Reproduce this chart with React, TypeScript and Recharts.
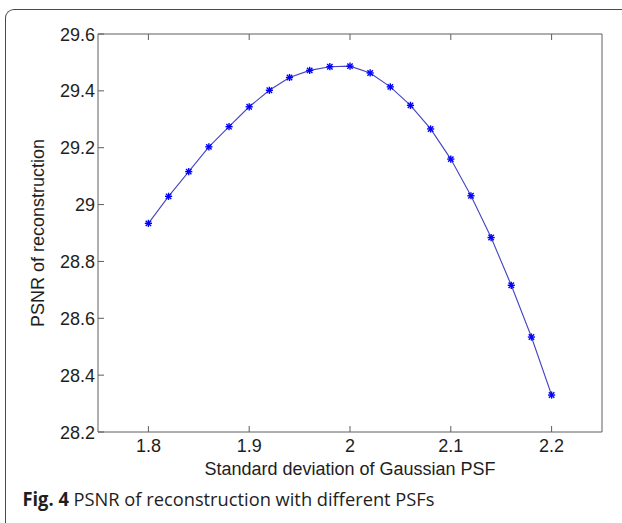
import React from 'react';
import { LineChart, Line, XAxis, YAxis } from 'recharts';

// sigma of the Gaussian PSF and the PSNR
const sigmas = [1.8, 1.82, 1.84, 1.86, 1.88, 1.9, 1.92, 1.94, 1.96, 1.98, 2.0, 2.02, 2.04, 2.06, 2.08, 2.1, 2.12, 2.14, 2.16, 2.18, 2.2];
const psnr = [28.934, 29.029, 29.116, 29.203, 29.274, 29.344, 29.402, 29.447, 29.472, 29.485, 29.487, 29.463, 29.414, 29.349, 29.266, 29.16, 29.031, 28.884, 28.716, 28.534, 28.33];

const xTicks = [1.8, 1.9, 2, 2.1, 2.2];
const xTickLabels = ['1.8', '1.9', '2', '2.1', '2.2'];
const yTicks = [28.2, 28.4, 28.6, 28.8, 29, 29.2, 29.4, 29.6];
const yTickLabels = ['28.2', '28.4', '28.6', '28.8', '29', '29.2', '29.4', '29.6'];

const data = sigmas.map((s, i) => ({ sigma: s, psnr: psnr[i] }));

const AXIS = '#5e5e5e';
const FONT = 'Arial, "Liberation Sans", sans-serif';
const TICK = 6;

const labelFor = (v: number, ticks: number[], labels: string[]) => {
  const i = ticks.findIndex(t => Math.abs(t - v) < 1e-6);
  return i >= 0 ? labels[i] : String(v);
};

const BottomTick = (props: any) => {
  const { x, y, payload } = props;
  return (
    <g>
      <line x1={x} y1={y} x2={x} y2={y - TICK} stroke={AXIS} strokeWidth={1} />
      <text x={x} y={y + 20} textAnchor="middle" fontSize={18} fontFamily={FONT} fill="#1e1e1e">
        {labelFor(payload.value, xTicks, xTickLabels)}
      </text>
    </g>
  );
};

const TopTick = (props: any) => {
  const { x, y } = props;
  return <line x1={x} y1={y} x2={x} y2={y + TICK} stroke={AXIS} strokeWidth={1} />;
};

const LeftTick = (props: any) => {
  const { x, y, payload } = props;
  return (
    <g>
      <line x1={x} y1={y} x2={x + TICK} y2={y} stroke={AXIS} strokeWidth={1} />
      <text x={x - 3} y={y + 6.5} textAnchor="end" fontSize={18} fontFamily={FONT} fill="#1e1e1e">
        {labelFor(payload.value, yTicks, yTickLabels)}
      </text>
    </g>
  );
};

const RightTick = (props: any) => {
  const { x, y } = props;
  return <line x1={x} y1={y} x2={x - TICK} y2={y} stroke={AXIS} strokeWidth={1} />;
};

// matlab style '*' marker
const Star = (props: any) => {
  const { cx, cy, index } = props;
  if (cx == null || cy == null) return <g key={index} />;
  const r = 3.6;
  const d = r * 0.75;
  return (
    <g key={index} stroke="#0000ff" strokeWidth={1.4}>
      <line x1={cx - r} y1={cy} x2={cx + r} y2={cy} />
      <line x1={cx} y1={cy - r} x2={cx} y2={cy + r} />
      <line x1={cx - d} y1={cy - d} x2={cx + d} y2={cy + d} />
      <line x1={cx - d} y1={cy + d} x2={cx + d} y2={cy - d} />
    </g>
  );
};

export default function App() {
  return (
    <div style={{ position: 'absolute', left: 0, top: 0, width: 622, height: 523, background: '#fff', overflow: 'hidden' }}>
      <div
        style={{
          position: 'absolute',
          left: 5,
          top: 9,
          width: 700,
          height: 600,
          borderTop: '1.5px solid #4a4a4a',
          borderLeft: '1.5px solid #4a4a4a',
          borderTopLeftRadius: 9,
        }}
      />
      <div style={{ position: 'absolute', left: 0, top: 0 }}>
        <LineChart width={622} height={523} data={data} margin={{ top: 33, right: 19, bottom: 31, left: 0 }}>
          <XAxis
            xAxisId="bottom"
            dataKey="sigma"
            type="number"
            domain={[1.75, 2.25]}
            ticks={xTicks}
            height={60}
            tickSize={0}
            tickMargin={0}
            tickLine={false}
            axisLine={{ stroke: AXIS }}
            tick={<BottomTick />}
            interval={0}
          />
          <XAxis
            xAxisId="top"
            orientation="top"
            dataKey="sigma"
            type="number"
            domain={[1.75, 2.25]}
            ticks={xTicks}
            height={1}
            tickSize={0}
            tickMargin={0}
            tickLine={false}
            axisLine={{ stroke: AXIS }}
            tick={<TopTick />}
            interval={0}
          />
          <YAxis
            yAxisId="left"
            type="number"
            domain={[28.2, 29.6]}
            ticks={yTicks}
            width={98}
            tickSize={0}
            tickMargin={0}
            tickLine={false}
            axisLine={{ stroke: AXIS }}
            tick={<LeftTick />}
            interval={0}
            label={{
              value: 'PSNR of reconstruction',
              angle: -90,
              position: 'insideLeft',
              offset: 0,
              dx: 38,
              style: { fontSize: 18, fontFamily: FONT, fill: '#1e1e1e', textAnchor: 'middle' },
            }}
          />
          <YAxis
            yAxisId="right"
            orientation="right"
            type="number"
            domain={[28.2, 29.6]}
            ticks={yTicks}
            width={1}
            tickSize={0}
            tickMargin={0}
            tickLine={false}
            axisLine={{ stroke: AXIS }}
            tick={<RightTick />}
            interval={0}
          />
          <Line
            xAxisId="bottom"
            yAxisId="left"
            type="linear"
            dataKey="psnr"
            stroke="#4444c2"
            strokeWidth={1.1}
            dot={(p: any) => <Star key={p.index} {...p} />}
            activeDot={false}
            isAnimationActive={false}
          />
        </LineChart>
      </div>
      <svg width={622} height={523} style={{ position: 'absolute', left: 0, top: 0, pointerEvents: 'none' }}>
        <text x={350} y={475} textAnchor="middle" fontSize={18} fontFamily={FONT} fill="#1e1e1e">
          Standard deviation of Gaussian PSF
        </text>
        <text x={22.5} y={506} fontSize={19} fontFamily='"Open Sans", "Noto Sans", sans-serif' fill="#1e1e1e" textLength={412} lengthAdjust="spacingAndGlyphs">
          <tspan fontWeight="bold">Fig. 4</tspan>
          <tspan> PSNR of reconstruction with different PSFs</tspan>
        </text>
      </svg>
    </div>
  );
}
